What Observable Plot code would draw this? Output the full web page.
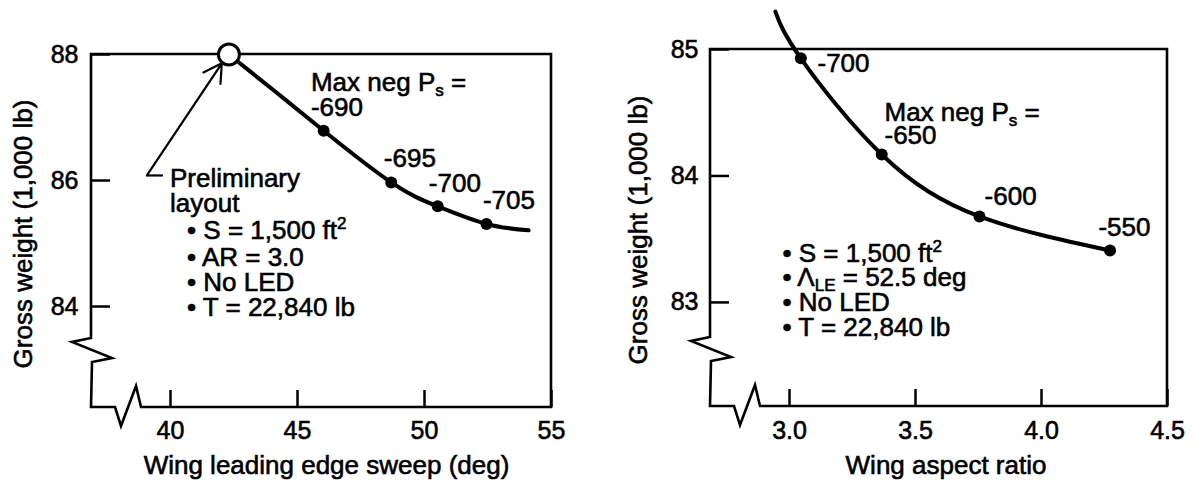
<!DOCTYPE html>
<html>
<head>
<meta charset="utf-8">
<script src="https://cdn.jsdelivr.net/npm/d3@7"></script>
<script src="https://cdn.jsdelivr.net/npm/@observablehq/plot@0.6"></script>
<style>
  html, body { margin: 0; padding: 0; background: #fff; }
  #wrap { display: flex; width: 1198px; height: 486px; }
  #wrap svg text { stroke: #000; stroke-width: 0.6px; }
</style>
</head>
<body>
<div id="wrap"></div>
<script>
// ---------- Left panel data: wing leading edge sweep ----------
const sweepCurve  = [42.3, 44.16, 46.03, 48.69, 50.52, 52.44, 54.1];
const weightCurveL = [88.0, 87.40, 86.79, 85.97, 85.59, 85.31, 85.21];
const sweepPts   = [46.03, 48.69, 50.52, 52.44];
const weightPtsL = [86.79, 85.97, 85.59, 85.31];
const prelimSweep = [42.3];
const prelimWeight = [88.0];
const sweepTicks = [40, 45, 50, 55];
const weightTicksL = [84, 86, 88];
const notesL  = ["Max neg P_{s} =", "-690", "-695", "-700", "-705"];
const notesLX = [45.53, 45.53, 48.40, 50.17, 52.30];
const notesLY = [87.56, 87.16, 86.35, 85.95, 85.68];
const layoutText = ["Preliminary", "layout"];
const layoutX = [39.98, 39.98];
const layoutY = [86.03, 85.63];
const bulletsL  = ["• S = 1,500 ft^{2}", "• AR = 3.0", "• No LED", "• T = 22,840 lb"];
const bulletsLX = [40.65, 40.65, 40.65, 40.65];
const bulletsLY = [85.21, 84.78, 84.38, 83.98];
const arrowX = [39.07, 42.02];
const arrowY = [86.08, 87.86];
const elbowX = [39.07, 39.70];
const elbowY = [86.08, 86.08];

// ---------- Right panel data: wing aspect ratio ----------
const arCurve = [2.944, 3.045, 3.366, 3.754, 4.272];
const weightCurveR = [85.30, 84.93, 84.17, 83.68, 83.41];
const arPts = [3.045, 3.366, 3.754, 4.272];
const weightPtsR = [84.93, 84.17, 83.68, 83.41];
const arTicks = [3.0, 3.5, 4.0, 4.5];
const weightTicksR = [83, 84, 85];
const notesR  = ["-700", "Max neg P_{s} =", "-650", "-600", "-550"];
const notesRX = [3.111, 3.377, 3.377, 3.774, 4.226];
const notesRY = [84.885, 84.50, 84.32, 83.84, 83.59];
const bulletsR  = ["• S = 1,500 ft^{2}", "• Λ_{LE} = 52.5 deg", "• No LED", "• T = 22,840 lb"];
const bulletsRX = [2.972, 2.972, 2.972, 2.972];
const bulletsRY = [83.384, 83.195, 82.998, 82.80];

const FONT = "Liberation Sans, Arial, Helvetica, sans-serif";
const idx = (a) => a.map((_, i) => i);

function brokenFrame(index, scales, values, dim) {
  const l = dim.marginLeft, t = dim.marginTop;
  const r = dim.width - dim.marginRight, b = dim.height - dim.marginBottom;
  const d = `M${l},${b-69}L${l},${t}L${r},${t}L${r},${b}L${l+50},${b}L${l+45},${b-21}L${l+30},${b+19}L${l+24},${b}L${l},${b}` +
            `L${l+1},${b-45}L${l+21},${b-49}L${l-19},${b-65}L${l},${b-69}Z`;
  return d3.create("svg:path").attr("d", d).attr("fill", "none")
    .attr("stroke", "black").attr("stroke-width", 2.6).attr("stroke-linejoin", "miter").node();
}

function richify(svg) {
  svg.querySelectorAll("text").forEach(t => {
    const s = t.textContent;
    if (!/[_^]\{/.test(s)) return;
    t.textContent = "";
    let shift = 0;
    const add = (str, kind) => {
      const ts = document.createElementNS("http://www.w3.org/2000/svg", "tspan");
      ts.textContent = str;
      const target = kind === "_" ? 5 : kind === "^" ? -10 : 0;
      if (target !== shift) ts.setAttribute("dy", (target - shift) + "px");
      shift = target;
      if (kind) ts.setAttribute("font-size", "17px");
      t.appendChild(ts);
    };
    const re = /([_^])\{(.*?)\}/g;
    let last = 0, m;
    while ((m = re.exec(s))) {
      if (m.index > last) add(s.slice(last, m.index), null);
      add(m[2], m[1]);
      last = re.lastIndex;
    }
    if (last < s.length) add(s.slice(last), null);
  });
}

const textOpts = {fontSize: 26, fontFamily: FONT, fill: "black", textAnchor: "start"};
const titleOpts = {fontSize: 26, fontFamily: FONT, fill: "black", textAnchor: "middle", lineAnchor: "middle"};

// ---------- Left plot ----------
const LW = 600, LH = 486, LMT = 54, LMR = 49, LMB = 79, LML = 91;
const left = Plot.plot({
  width: LW, height: LH,
  marginTop: LMT, marginRight: LMR, marginBottom: LMB, marginLeft: LML,
  style: {fontSize: "25px", fontFamily: FONT, color: "black", background: "white", overflow: "visible"},
  x: {domain: [36.89, 55], ticks: sweepTicks, tickFormat: d3.format("d"), tickSize: 0, tickPadding: 14, label: null},
  y: {domain: [82.397, 88], ticks: weightTicksL, tickFormat: d3.format("d"), tickSize: 0, tickPadding: 13, label: null},
  marks: [
    brokenFrame,
    Plot.tickX(sweepTicks, {x: d => d, insetTop: (LH - LMT - LMB) - 17, stroke: "black", strokeWidth: 2.5}),
    Plot.tickY(weightTicksL, {y: d => d, insetRight: (LW - LML - LMR) - 19, stroke: "black", strokeWidth: 2.5}),
    Plot.line(idx(sweepCurve), {x: i => sweepCurve[i], y: i => weightCurveL[i], curve: "natural", stroke: "black", strokeWidth: 4}),
    Plot.dot(idx(sweepPts), {x: i => sweepPts[i], y: i => weightPtsL[i], r: 6, fill: "black"}),
    Plot.link([0], {x1: () => elbowX[0], y1: () => elbowY[0], x2: () => elbowX[1], y2: () => elbowY[1], stroke: "black", strokeWidth: 2.2}),
    Plot.arrow([0], {x1: () => arrowX[0], y1: () => arrowY[0], x2: () => arrowX[1], y2: () => arrowY[1], stroke: "black", strokeWidth: 2.2, headLength: 14}),
    Plot.dot(idx(prelimSweep), {x: i => prelimSweep[i], y: i => prelimWeight[i], r: 10.5, fill: "white", stroke: "black", strokeWidth: 3}),
    Plot.text(idx(notesL), {x: i => notesLX[i], y: i => notesLY[i], text: i => notesL[i], ...textOpts}),
    Plot.text(idx(layoutText), {x: i => layoutX[i], y: i => layoutY[i], text: i => layoutText[i], ...textOpts}),
    Plot.text(idx(bulletsL), {x: i => bulletsLX[i], y: i => bulletsLY[i], text: i => bulletsL[i], ...textOpts}),
    Plot.text(["Gross weight (1,000 lb)"], {frameAnchor: "left", dx: -68, dy: 3, rotate: -90, ...titleOpts}),
    Plot.text(["Wing leading edge sweep (deg)"], {frameAnchor: "bottom", dx: 5, dy: 58, ...titleOpts})
  ]
});

// ---------- Right plot ----------
const RW = 598, RH = 486, RMT = 49, RMR = 31, RMB = 80, RML = 110;
const right = Plot.plot({
  width: RW, height: RH,
  marginTop: RMT, marginRight: RMR, marginBottom: RMB, marginLeft: RML,
  style: {fontSize: "25px", fontFamily: FONT, color: "black", background: "white", overflow: "visible"},
  x: {domain: [2.6865, 4.5], ticks: arTicks, tickFormat: d3.format(".1f"), tickSize: 0, tickPadding: 15, label: null},
  y: {domain: [82.177, 85], ticks: weightTicksR, tickFormat: d3.format("d"), tickSize: 0, tickPadding: 12, label: null},
  marks: [
    brokenFrame,
    Plot.tickX(arTicks, {x: d => d, insetTop: (RH - RMT - RMB) - 17, stroke: "black", strokeWidth: 2.5}),
    Plot.tickY(weightTicksR, {y: d => d, insetRight: (RW - RML - RMR) - 19, stroke: "black", strokeWidth: 2.5}),
    Plot.line(idx(arCurve), {x: i => arCurve[i], y: i => weightCurveR[i], curve: "natural", stroke: "black", strokeWidth: 4}),
    Plot.dot(idx(arPts), {x: i => arPts[i], y: i => weightPtsR[i], r: 6, fill: "black"}),
    Plot.text(idx(notesR), {x: i => notesRX[i], y: i => notesRY[i], text: i => notesR[i], ...textOpts}),
    Plot.text(idx(bulletsR), {x: i => bulletsRX[i], y: i => bulletsRY[i], text: i => bulletsR[i], ...textOpts}),
    Plot.text(["Gross weight (1,000 lb)"], {frameAnchor: "left", dx: -72, dy: 2, rotate: -90, ...titleOpts}),
    Plot.text(["Wing aspect ratio"], {frameAnchor: "bottom", dx: 7, dy: 59, ...titleOpts})
  ]
});

richify(left);
richify(right);
const wrap = document.getElementById("wrap");
wrap.appendChild(left);
wrap.appendChild(right);
</script>
</body>
</html>
